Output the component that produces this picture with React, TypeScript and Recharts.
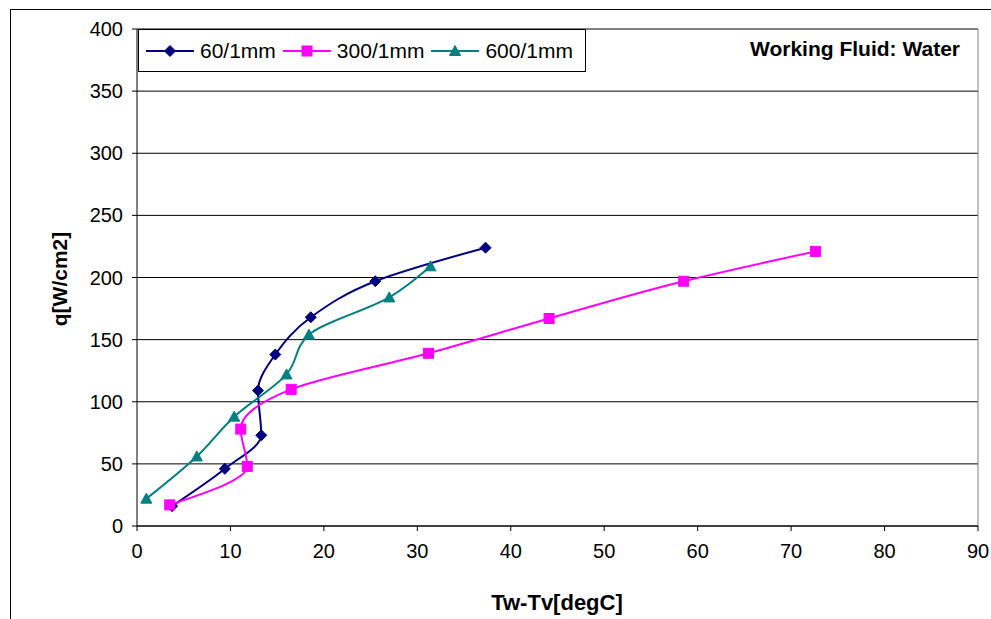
import React from 'react';
import {
  LineChart,
  Line,
  XAxis,
  YAxis,
  CartesianGrid,
  ReferenceLine,
} from 'recharts';

// Tw-Tv [degC] and q [W/cm2] per sample
const x60 = [3.75, 9.4, 13.3, 12.95, 14.8, 18.6, 25.5, 37.3];
const q60 = [16, 46, 73, 109, 138, 168, 197, 224];
const x300 = [3.5, 11.8, 11.1, 16.5, 31.2, 44.1, 58.5, 72.6];
const q300 = [17, 48, 78, 110, 139, 167, 197, 221];
const x600 = [1.0, 6.4, 10.4, 16.0, 18.4, 27.0, 31.4];
const q600 = [22, 56, 88, 122, 154, 184, 209];

const xTicks = [0, 10, 20, 30, 40, 50, 60, 70, 80, 90];
const yTicks = [0, 50, 100, 150, 200, 250, 300, 350, 400];

const seriesNames = ['60/1mm', '300/1mm', '600/1mm'];
const seriesColors = ['#000080', '#ff00ff', '#008080'];
const seriesShapes = ['diamond', 'square', 'triangle'];

const zip = (xs: number[], qs: number[]) => xs.map((x, i) => ({ x, q: qs[i] }));
const seriesData = [zip(x60, q60), zip(x300, q300), zip(x600, q600)];

const FONT = 'Arial, "Liberation Sans", sans-serif';

const Marker = ({ cx, cy, shape, color }: any) => {
  if (cx == null || cy == null) return null;
  if (shape === 'diamond') {
    const r = 5.5;
    return <path d={`M${cx},${cy - r}L${cx + r},${cy}L${cx},${cy + r}L${cx - r},${cy}Z`} fill={color} stroke={color} />;
  }
  if (shape === 'square') {
    return <rect x={cx - 5} y={cy - 5} width={10} height={10} fill={color} stroke={color} />;
  }
  return <path d={`M${cx},${cy - 5.5}L${cx + 5.5},${cy + 4.5}L${cx - 5.5},${cy + 4.5}Z`} fill={color} stroke={color} />;
};

const LegendBox = () => (
  <div
    style={{
      position: 'absolute',
      left: 138,
      top: 29,
      border: '1px solid #000',
      background: '#fff',
      width: 448,
      height: 43,
      boxSizing: 'border-box',
      display: 'flex',
      alignItems: 'center',
      paddingLeft: 7,
      fontFamily: FONT,
      fontSize: 21,
      color: '#000',
    }}
  >
    {seriesNames.map((n, i) => (
      <div key={n} style={{ display: 'flex', alignItems: 'center', marginRight: 7 }}>
        <svg width={48} height={14}>
          <line x1={0} y1={7} x2={48} y2={7} stroke={seriesColors[i]} strokeWidth={2} />
          <Marker cx={24} cy={7} shape={seriesShapes[i]} color={seriesColors[i]} />
        </svg>
        <span style={{ marginLeft: 6 }}>{n}</span>
      </div>
    ))}
  </div>
);

export default function App() {
  return (
    <div
      style={{
        position: 'absolute',
        left: 0,
        top: 0,
        width: 991,
        height: 619,
        overflow: 'hidden',
        background: '#fff',
      }}
    >
      <div
        style={{
          position: 'absolute',
          left: 10,
          top: 9,
          width: 1100,
          height: 700,
          border: '1px solid #000',
        }}
      />
      <LineChart
        width={991}
        height={619}
        margin={{ top: 29, right: 13, left: 67, bottom: 0 }}
        style={{ fontFamily: FONT }}
      >
        <CartesianGrid vertical={false} stroke="#000" horizontalValues={yTicks} />
        <XAxis
          type="number"
          dataKey="x"
          domain={[0, 90]}
          ticks={xTicks}
          interval={0}
          height={93}
          tickSize={5}
          tickMargin={13}
          stroke="#000"
          tick={{ fill: '#000', fontSize: 20 }}
          label={{
            content: () => (
              <text x={557} y={610} textAnchor="middle" fontSize={22} fontWeight="bold" fill="#000">
                Tw-Tv[degC]
              </text>
            ),
          }}
        />
        <YAxis
          type="number"
          domain={[0, 400]}
          ticks={yTicks}
          interval={0}
          width={70}
          tickSize={5}
          tickMargin={9}
          stroke="#000"
          tick={{ fill: '#000', fontSize: 20 }}
          label={{
            content: () => (
              <text
                x={67}
                y={279}
                transform="rotate(-90 67 279)"
                textAnchor="middle"
                fontSize={21}
                fontWeight="bold"
                fill="#000"
              >
                q[W/cm2]
              </text>
            ),
          }}
        />
        <ReferenceLine x={90} stroke="#808080" />
        {seriesData.map((d, i) => (
          <Line
            key={seriesNames[i]}
            data={d}
            dataKey="q"
            name={seriesNames[i]}
            type="monotoneY"
            stroke={seriesColors[i]}
            strokeWidth={2}
            dot={(p: any) => (
              <Marker key={`${i}-${p.index}`} cx={p.cx} cy={p.cy} shape={seriesShapes[i]} color={seriesColors[i]} />
            )}
            activeDot={false}
            isAnimationActive={false}
          />
        ))}
      </LineChart>
      <LegendBox />
      <div
        style={{
          position: 'absolute',
          right: 31,
          top: 37,
          fontFamily: FONT,
          fontSize: 21,
          fontWeight: 'bold',
          color: '#000',
        }}
      >
        Working Fluid: Water
      </div>
    </div>
  );
}
